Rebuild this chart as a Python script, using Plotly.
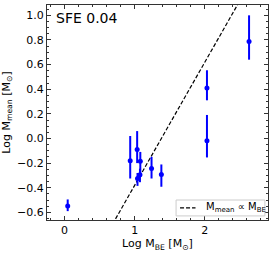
import plotly.graph_objects as go

# Data
log_mbe = [0.045, 0.936, 1.035, 1.08, 1.04, 1.075, 1.24, 1.38, 2.03, 2.03, 2.63]
log_mmean = [-0.549, -0.18, -0.09, -0.185, -0.325, -0.295, -0.243, -0.292, 0.41, -0.019, 0.787]
err_plus = [0.054, 0.20, 0.15, 0.076, 0.045, 0.05, 0.094, 0.081, 0.144, 0.21, 0.213]
err_minus = [0.041, 0.145, 0.11, 0.125, 0.06, 0.06, 0.082, 0.10, 0.10, 0.135, 0.147]

# Proportionality line: log M_mean = log M_BE + offset
fit_x = [0.6, 2.6]
fit_offset = -1.38
fit_y = [v + fit_offset for v in fit_x]
legend_label = "M<sub>mean</sub> ∝ M<sub>BE</sub>"

font_family = "DejaVu Sans"

fig = go.Figure()
fig.add_trace(go.Scatter(
    x=fit_x, y=fit_y, mode="lines",
    line=dict(color="black", dash="4px,2px", width=1.2),
    name=legend_label, showlegend=False,
))
fig.add_trace(go.Scatter(
    x=log_mbe, y=log_mmean, mode="markers",
    marker=dict(color="blue", size=5),
    error_y=dict(type="data", symmetric=False, array=err_plus, arrayminus=err_minus,
                 color="blue", thickness=2, width=0),
    showlegend=False,
))

axis_common = dict(
    showline=True, linecolor="#333333", linewidth=1, mirror="ticks",
    ticks="inside", ticklen=4, tickcolor="#333333", showgrid=False, zeroline=False,
    tickfont=dict(family=font_family, size=11, color="black"),
)

# Manual legend (box, dashed sample, label)
fig.add_shape(type="rect", xref="paper", yref="paper", x0=0.584, x1=0.986, y0=0.019, y1=0.093,
              line=dict(color="#cccccc", width=1), fillcolor="white", layer="above")
fig.add_shape(type="line", xref="paper", yref="paper", x0=0.602, x1=0.672, y0=0.056, y1=0.056,
              line=dict(color="black", dash="4px,2px", width=1.2), layer="above")
fig.add_annotation(text=legend_label, xref="paper", yref="paper", x=0.71, y=0.056,
                   xanchor="left", yanchor="middle", showarrow=False,
                   font=dict(size=10, family=font_family))
fig.add_annotation(text="SFE 0.04", xref="paper", yref="paper", x=0.03, y=0.985,
                   xanchor="left", yanchor="top", showarrow=False,
                   font=dict(size=14, family=font_family))

fig.update_layout(
    width=274, height=253,
    margin=dict(l=47, r=6, t=5, b=33),
    paper_bgcolor="white", plot_bgcolor="white",
    font=dict(family=font_family, color="black"),
    xaxis=dict(range=[-0.25, 2.9], tickvals=[0, 1, 2],
               minor=dict(ticks="inside", dtick=0.2, ticklen=2, tickcolor="#333333"),
               title=dict(text="Log M<sub>BE</sub> [M<sub>⊙</sub>]", font=dict(size=11), standoff=2),
               **axis_common),
    yaxis=dict(range=[-0.662, 1.084], tickvals=[-0.6, -0.4, -0.2, 0.0, 0.2, 0.4, 0.6, 0.8, 1.0],
               tickformat=".1f",
               minor=dict(ticks="inside", dtick=0.05, ticklen=2, tickcolor="#333333"),
               title=dict(text="Log M<sub>mean</sub> [M<sub>⊙</sub>]", font=dict(size=11), standoff=4),
               **axis_common),
    showlegend=False,
)

fig.write_html("out.html", config={"displayModeBar": False},
               post_script="document.body.style.margin='0';document.body.style.overflow='hidden';")
